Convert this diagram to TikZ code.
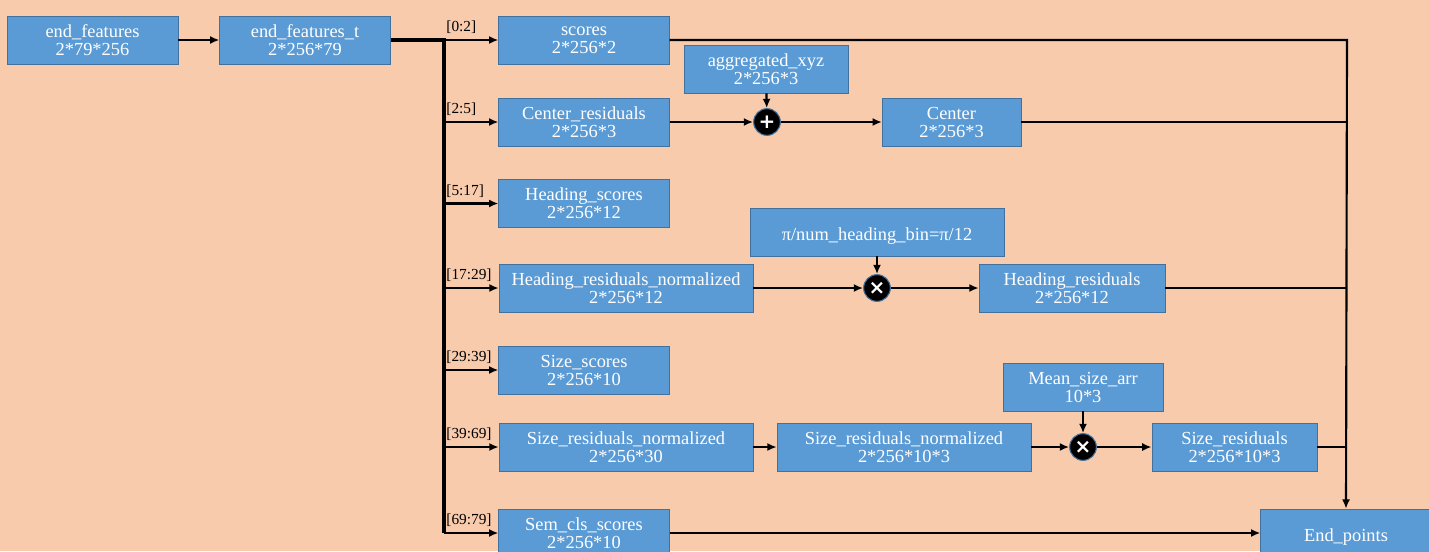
\documentclass[tikz,border=0pt]{standalone}
\usepackage{fontspec}
\setmainfont{Liberation Serif}
\newfontfamily\opfont{DejaVu Sans}
\usetikzlibrary{arrows.meta, positioning}
\definecolor{bgpeach}{HTML}{F8CBAD}
\definecolor{boxfill}{HTML}{5B9BD5}
\definecolor{boxedge}{HTML}{41719C}
\tikzset{
x=0.75pt, y=-0.75pt, % one unit is one pixel of the drawing, y grows downwards
>={Latex[length=7pt, width=6pt]},
blk/.style={draw=boxedge, fill=boxfill, text=white, minimum height=36pt, inner sep=0pt, align=center, font=\fontsize{13.8}{13.5}\selectfont, execute at begin node={\rule{0pt}{16pt}}}, % the blue blocks
opnode/.style={circle, draw=boxedge, line width=0.8pt, fill=black, text=white, minimum size=20pt, inner sep=0pt, font=\opfont\bfseries\fontsize{15}{15}\selectfont}, % the + and x operators
wire/.style={line width=1.6pt}, % connectors
bus/.style={line width=2.4pt}, % the thick splitting line
slice/.style={anchor=south west, inner sep=1pt, yshift=3pt, font=\fontsize{11.5}{11.5}\selectfont}, % the index ranges
}
\begin{document}
\begin{tikzpicture}
\useasboundingbox (0,0) rectangle (1429,551);
\clip (0,0) rectangle (1429,551);
\fill[bgpeach] (0,0) rectangle (1429,551);

% input side
\node[blk, minimum width=128pt] (ef) at (92.5,40) {end\_features\\2*79*256};
\node[blk, minimum width=128pt] (eft) at (305,40) {end\_features\_t\\2*256*79};

% split outputs
\node[blk, minimum width=128pt] (sc) at (584,40) {scores\\2*256*2};
\node[blk, minimum width=128pt] (cres) at (584,122) {Center\_residuals\\2*256*3};
\node[blk, minimum width=128pt] (hs) at (584,203.5) {Heading\_scores\\2*256*12};
\node[blk, minimum width=190.5pt] (hrn) at (626,288) {Heading\_residuals\_normalized\\2*256*12};
\node[blk, minimum width=128pt] (ss) at (584,370) {Size\_scores\\2*256*10};
\node[blk, minimum width=190.5pt] (srn1) at (626,447) {Size\_residuals\_normalized\\2*256*30};
\node[blk, minimum width=128pt] (sem) at (584,533) {Sem\_cls\_scores\\2*256*10};

% operands and operators
\node[blk, minimum width=123pt] (agg) at (766,69) {aggregated\_xyz\\2*256*3};
\node[opnode] (plus) at (767,122) {+};
\node[blk, minimum width=104pt] (ctr) at (951.5,122) {Center\\2*256*3};

\node[blk, minimum width=190.5pt] (pib) at (877,232) {π/num\_heading\_bin=π/12};
\node[opnode] (mul1) at (877,288) {×};
\node[blk, minimum width=139.5pt] (hr) at (1072,288) {Heading\_residuals\\2*256*12};

\node[blk, minimum width=190.5pt] (srn2) at (904,447) {Size\_residuals\_normalized\\2*256*10*3};
\node[blk, minimum width=120pt] (msa) at (1083,387) {Mean\_size\_arr\\10*3};
\node[opnode] (mul2) at (1083,447) {×};
\node[blk, minimum width=124pt] (sr) at (1234.5,447) {Size\_residuals\\2*256*10*3};

\node[blk, minimum width=128pt] (ep) at (1346,533) {End\_points};

% splitting bus
\coordinate (b0) at (444,40);
\coordinate (b1) at (444,122);
\coordinate (b2) at (444,203.5);
\coordinate (b3) at (444,288);
\coordinate (b4) at (444,370);
\coordinate (b5) at (444,447);
\coordinate (b6) at (444,533);
\draw[->, wire] (ef) -- (eft);
\draw[bus] (eft.east) -- (b0) -- (b6);
\draw[->, wire] (b0) -- node[slice, pos=0] {[0:2]} (sc);
\draw[->, wire] (b1) -- node[slice, pos=0] {[2:5]} (cres);
\draw[->, wire] (b2) -- node[slice, pos=0] {[5:17]} (hs);
\draw[->, wire] (b3) -- node[slice, pos=0] {[17:29]} (hrn);
\draw[->, wire] (b4) -- node[slice, pos=0] {[29:39]} (ss);
\draw[->, wire] (b5) -- node[slice, pos=0] {[39:69]} (srn1);
\draw[->, wire] (b6) -- node[slice, pos=0] {[69:79]} (sem);

% decoding
\draw[->, wire] (cres) -- (plus);
\draw[->, wire] (agg) -- (plus);
\draw[->, wire] (plus) -- (ctr);
\draw[->, wire] (hrn) -- (mul1);
\draw[->, wire] (pib) -- (mul1);
\draw[->, wire] (mul1) -- (hr);
\draw[->, wire] (srn1) -- (srn2);
\draw[->, wire] (srn2) -- (mul2);
\draw[->, wire] (msa) -- (mul2);
\draw[->, wire] (mul2) -- (sr);

% collecting into End_points
\coordinate (r0) at (1347,40);
\draw[->, wire] (sc.east) -- (r0) -- (ep.north);
\draw[wire] (ctr.east) -- (ctr.east -| r0);
\draw[wire] (hr.east) -- (hr.east -| r0);
\draw[wire] (sr.east) -- (sr.east -| r0);
\draw[->, wire] (sem) -- (ep);
\end{tikzpicture}
\end{document}
